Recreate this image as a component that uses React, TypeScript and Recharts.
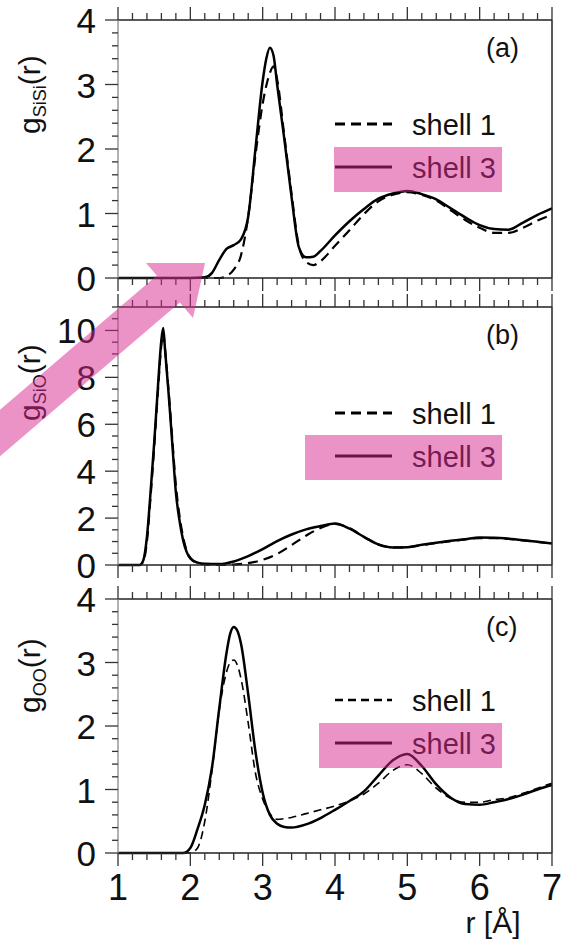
import React from "react";
import { LineChart, Line, XAxis, YAxis, Legend, Label } from "recharts";

const FONT = "'Liberation Sans', Arial, Helvetica, sans-serif";
const PINK = "#d8288f";

// panel (a): g_SiSi(r)
const rSiSi = [1.0, 2.0, 2.2, 2.3, 2.4, 2.5, 2.6, 2.7, 2.8, 2.9, 3.0, 3.05, 3.1, 3.15, 3.2, 3.3, 3.4, 3.5, 3.6, 3.7, 3.8, 4.0, 4.2, 4.4, 4.6, 4.8, 5.0, 5.2, 5.4, 5.6, 5.8, 6.0, 6.2, 6.4, 6.6, 6.8, 7.0];
const siSiShell1 = [0, 0, 0, 0, 0, 0.03, 0.13, 0.35, 0.95, 1.9, 2.7, 2.98, 3.18, 3.28, 3.08, 2.2, 1.3, 0.5, 0.25, 0.2, 0.26, 0.5, 0.74, 0.99, 1.19, 1.29, 1.33, 1.29, 1.2, 1.05, 0.9, 0.78, 0.7, 0.7, 0.78, 0.89, 0.98];
const siSiShell3 = [0, 0, 0.01, 0.08, 0.28, 0.45, 0.51, 0.6, 0.95, 2.0, 3.05, 3.4, 3.57, 3.45, 3.0, 2.15, 1.25, 0.48, 0.32, 0.33, 0.42, 0.66, 0.88, 1.07, 1.23, 1.31, 1.35, 1.3, 1.22, 1.08, 0.94, 0.82, 0.76, 0.75, 0.86, 0.98, 1.08];

// panel (b): g_SiO(r)
const rSiO = [1.0, 1.3, 1.35, 1.4, 1.45, 1.5, 1.55, 1.6, 1.625, 1.65, 1.7, 1.75, 1.8, 1.85, 1.9, 1.95, 2.0, 2.1, 2.2, 2.4, 2.6, 2.8, 3.0, 3.2, 3.4, 3.6, 3.8, 4.0, 4.2, 4.4, 4.6, 4.8, 5.0, 5.2, 5.4, 5.6, 5.8, 6.0, 6.2, 6.4, 6.6, 6.8, 7.0];
const siOShell1 = [0, 0, 0.15, 1.0, 2.9, 5.0, 7.3, 9.4, 9.9, 9.2, 7.4, 5.4, 3.4, 2.1, 1.2, 0.6, 0.3, 0.08, 0.03, 0.0, 0.02, 0.08, 0.22, 0.47, 0.85, 1.25, 1.58, 1.75, 1.57, 1.2, 0.87, 0.75, 0.76, 0.85, 0.94, 1.02, 1.09, 1.15, 1.15, 1.11, 1.05, 0.98, 0.91];
const siOShell3 = [0, 0, 0.2, 1.2, 3.1, 5.2, 7.5, 9.6, 10.1, 9.2, 7.3, 5.2, 3.1, 1.9, 1.06, 0.55, 0.28, 0.1, 0.05, 0.04, 0.15, 0.38, 0.68, 1.02, 1.3, 1.52, 1.66, 1.77, 1.55, 1.2, 0.88, 0.75, 0.76, 0.86, 0.95, 1.03, 1.1, 1.17, 1.16, 1.12, 1.06, 0.99, 0.92];

// panel (c): g_OO(r)
const rOO = [1.0, 1.9, 2.0, 2.1, 2.2, 2.3, 2.4, 2.5, 2.55, 2.6, 2.65, 2.7, 2.8, 2.9, 3.0, 3.1, 3.2, 3.3, 3.4, 3.6, 3.8, 4.0, 4.2, 4.4, 4.6, 4.8, 5.0, 5.2, 5.4, 5.6, 5.8, 6.0, 6.2, 6.4, 6.6, 6.8, 7.0];
const ooShell1 = [0, 0, 0, 0.08, 0.5, 1.3, 2.25, 2.85, 3.0, 3.04, 2.96, 2.75, 2.05, 1.26, 0.85, 0.62, 0.53, 0.54, 0.56, 0.62, 0.68, 0.74, 0.82, 0.93, 1.1, 1.3, 1.39, 1.25, 1.02, 0.86, 0.8, 0.8, 0.84, 0.87, 0.94, 1.02, 1.1];
const ooShell3 = [0, 0, 0.08, 0.38, 0.76, 1.35, 2.28, 3.15, 3.45, 3.56, 3.5, 3.3, 2.5, 1.6, 0.95, 0.6, 0.46, 0.41, 0.4, 0.45, 0.55, 0.68, 0.82, 0.97, 1.22, 1.46, 1.56, 1.37, 1.08, 0.87, 0.77, 0.76, 0.8, 0.85, 0.92, 1.0, 1.07];

const seriesNames = ["shell 1", "shell 3"];
const xMajor = [1, 2, 3, 4, 5, 6, 7];
const yMajorSmall = [0, 1, 2, 3, 4];
const yMajorSiO = [0, 2, 4, 6, 8, 10];

const steps = (lo: number, hi: number, st: number) =>
  Array.from({ length: Math.round((hi - lo) / st) + 1 }, (_, i) => +(lo + i * st).toFixed(2));

const xTicks = steps(1, 7, 0.2);

const toRows = (r: number[], s1: number[], s3: number[]) =>
  r.map((v, i) => ({ r: v, s1: s1[i], s3: s3[i] }));

type Side = "bottom" | "top" | "left" | "right";

const makeTick = (side: Side, majors: number[], labels: boolean) => (props: any) => {
  const { x, y, payload } = props;
  const v = payload.value;
  const major = majors.some((m) => Math.abs(m - v) < 1e-6);
  const horiz = side === "bottom" || side === "top";
  const len = major ? 13 : horiz ? 7 : 6;
  let line;
  if (side === "bottom") line = <line x1={x} x2={x} y1={y} y2={y + len} />;
  else if (side === "top") line = <line x1={x} x2={x} y1={y} y2={y - len} />;
  else if (side === "left") line = <line x1={x} x2={x - len} y1={y} y2={y} />;
  else line = <line x1={x} x2={x + len} y1={y} y2={y} />;
  return (
    <g stroke="#333" strokeWidth={1.3}>
      {line}
      {labels && major && side === "bottom" && (
        <text x={x} y={y + 47} textAnchor="middle" stroke="none" fill="#111" fontSize={36} fontFamily={FONT}>
          {v}
        </text>
      )}
      {labels && major && side === "left" && (
        <text x={x - 22} y={y + 13} textAnchor="end" stroke="none" fill="#111" fontSize={35} fontFamily={FONT}>
          {v}
        </text>
      )}
    </g>
  );
};

type PanelCfg = {
  height: number;
  margin: { top: number; right: number; bottom: number; left: number };
  rows: { r: number; s1: number; s3: number }[];
  yMax: number;
  yStep: number;
  yMajor: number[];
  sub: string;
  tag: string;
  dash: string;
  dashWidth: number;
  legendY: number;
  boxLeft: number;
  boxTop: number;
  xLabels: boolean;
};

const Panel = ({ cfg }: { cfg: PanelCfg }) => {
  const yTicks = steps(0, cfg.yMax, cfg.yStep);
  const axisCommon = { tickSize: 0, tickMargin: 0, tickLine: false, interval: 0 as const };
  const dark = { stroke: "#222", strokeWidth: 1.5 };

  const legendContent = (props: any) => {
    const items = props.payload || [];
    return (
      <svg width={562} height={cfg.height} style={{ display: "block", pointerEvents: "none" }}>
        {items.map((it: any, i: number) => {
          const y = cfg.legendY + i * 43;
          return (
            <g key={i}>
              <line
                x1={335}
                x2={392}
                y1={y}
                y2={y}
                stroke="#000"
                strokeWidth={i === 0 ? cfg.dashWidth + 0.8 : 3}
                strokeDasharray={i === 0 ? cfg.dash : undefined}
              />
              <text x={412} y={y + 11} fontSize={29} fontFamily={FONT} fill="#111">
                {it.value}
              </text>
            </g>
          );
        })}
        <rect x={cfg.boxLeft} y={cfg.boxTop} width={502 - cfg.boxLeft} height={45} fill={PINK} fillOpacity={0.5} />
      </svg>
    );
  };

  return (
    <LineChart width={562} height={cfg.height} data={cfg.rows} margin={cfg.margin}>
      <XAxis
        xAxisId="b"
        type="number"
        dataKey="r"
        domain={[1, 7]}
        ticks={xTicks}
        height={1}
        axisLine={dark}
        tick={makeTick("bottom", xMajor, cfg.xLabels)}
        {...axisCommon}
      >
        {cfg.xLabels && (
          <Label
            content={(p: any) => (
              <text x={493} y={p.viewBox.y + 80} textAnchor="middle" fontSize={30} fontFamily={FONT} fill="#111">
                r [Å]
              </text>
            )}
          />
        )}
      </XAxis>
      <XAxis
        xAxisId="t"
        orientation="top"
        type="number"
        dataKey="r"
        domain={[1, 7]}
        ticks={xTicks}
        height={1}
        axisLine={dark}
        tick={makeTick("top", xMajor, false)}
        {...axisCommon}
      >
        <Label
          content={(p: any) => (
            <text x={486} y={p.viewBox.y + 38} fontSize={27} fontFamily={FONT} fill="#111">
              {cfg.tag}
            </text>
          )}
        />
      </XAxis>
      <YAxis
        yAxisId="l"
        type="number"
        domain={[0, cfg.yMax]}
        ticks={yTicks}
        width={1}
        axisLine={{ stroke: "#999", strokeWidth: 1.5 }}
        tick={makeTick("left", cfg.yMajor, true)}
        {...axisCommon}
      >
        <Label
          content={(p: any) => {
            const x = 40;
            const y = p.viewBox.y + 114;
            return (
              <text x={x} y={y} transform={`rotate(-90 ${x} ${y})`} fontSize={30} fontFamily={FONT} fill="#111">
                g
                <tspan fontSize={18} dy={6}>
                  {cfg.sub}
                </tspan>
                <tspan dy={-6}>(r)</tspan>
              </text>
            );
          }}
        />
      </YAxis>
      <YAxis
        yAxisId="r"
        orientation="right"
        type="number"
        domain={[0, cfg.yMax]}
        ticks={yTicks}
        width={1}
        axisLine={dark}
        tick={makeTick("right", cfg.yMajor, false)}
        {...axisCommon}
      />
      <Line
        xAxisId="b"
        yAxisId="l"
        name={seriesNames[0]}
        dataKey="s1"
        type="monotone"
        stroke="#000"
        strokeWidth={cfg.dashWidth}
        strokeDasharray={cfg.dash}
        dot={false}
        activeDot={false}
        isAnimationActive={false}
      />
      <Line
        xAxisId="b"
        yAxisId="l"
        name={seriesNames[1]}
        dataKey="s3"
        type="monotone"
        stroke="#000"
        strokeWidth={2.5}
        dot={false}
        activeDot={false}
        isAnimationActive={false}
      />
      <Legend
        verticalAlign="middle"
        align="center"
        layout="horizontal"
        content={legendContent}
        wrapperStyle={{ left: 0, top: 0, width: 562, height: cfg.height, pointerEvents: "none" }}
      />
    </LineChart>
  );
};

const panels: { top: number; cfg: PanelCfg }[] = [
  {
    top: 0,
    cfg: {
      height: 300,
      margin: { top: 19, right: 9, bottom: 21, left: 117 },
      rows: toRows(rSiSi, siSiShell1, siSiShell3),
      yMax: 4,
      yStep: 0.2,
      yMajor: yMajorSmall,
      sub: "SiSi",
      tag: "(a)",
      dash: "10 6",
      dashWidth: 2.2,
      legendY: 124,
      boxLeft: 334,
      boxTop: 147,
      xLabels: false,
    },
  },
  {
    top: 290,
    cfg: {
      height: 300,
      margin: { top: 16, right: 9, bottom: 24, left: 117 },
      rows: toRows(rSiO, siOShell1, siOShell3),
      yMax: 11,
      yStep: 0.5,
      yMajor: yMajorSiO,
      sub: "SiO",
      tag: "(b)",
      dash: "10 6",
      dashWidth: 2.2,
      legendY: 123,
      boxLeft: 305,
      boxTop: 145,
      xLabels: false,
    },
  },
  {
    top: 580,
    cfg: {
      height: 361,
      margin: { top: 18, right: 9, bottom: 87, left: 117 },
      rows: toRows(rOO, ooShell1, ooShell3),
      yMax: 4,
      yStep: 0.2,
      yMajor: yMajorSmall,
      sub: "OO",
      tag: "(c)",
      dash: "8 5",
      dashWidth: 1.6,
      legendY: 120,
      boxLeft: 319,
      boxTop: 143,
      xLabels: true,
    },
  },
];

const arrowPoints = "-57,458.5 156.8,275.6 143.6,260.2 206.4,256.5 193,318 179.8,302.6 -34.1,485.5";

export default function App() {
  return (
    <div style={{ position: "absolute", left: 0, top: 0, width: 562, height: 941, background: "#fff" }}>
      {panels.map((p, i) => (
        <div key={i} style={{ position: "absolute", left: 0, top: p.top }}>
          <Panel cfg={p.cfg} />
        </div>
      ))}
      <svg width={562} height={941} style={{ position: "absolute", left: 0, top: 0, pointerEvents: "none" }}>
        <defs>
          <clipPath id="arrowClip">
            <rect x={0} y={263} width={562} height={678} />
          </clipPath>
        </defs>
        <polygon points={arrowPoints} fill={PINK} fillOpacity={0.5} clipPath="url(#arrowClip)" />
      </svg>
    </div>
  );
}
